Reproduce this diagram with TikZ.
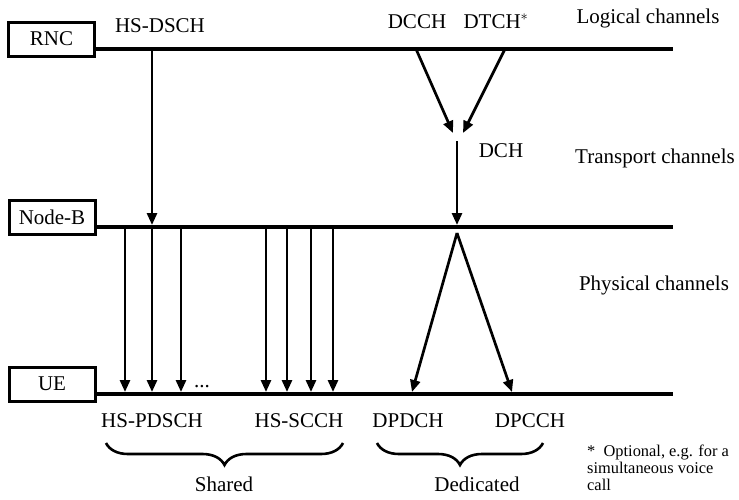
\documentclass[tikz,border=0pt]{standalone}
\usepackage{fontspec}
\setmainfont{Liberation Serif}
\usetikzlibrary{arrows.meta,decorations.pathreplacing}
\begin{document}
\begin{tikzpicture}[x=1pt,y=-1pt,
  box/.style={draw,line width=3pt,minimum width=86pt,minimum height=34pt,inner sep=0pt,font=\fontsize{21}{24}\selectfont},
  chan/.style={line width=4pt},
  arr/.style={line width=2.7pt,-{Triangle[length=12pt,width=10pt]}},
  lbl/.style={anchor=base,font=\fontsize{21}{24}\selectfont,inner sep=0pt},
  note/.style={anchor=base west,font=\fontsize{16.4}{18}\selectfont,inner sep=0pt},
  brc/.style={decorate,decoration={brace,mirror,amplitude=22pt},line width=2.6pt}
]
\useasboundingbox (0,0) rectangle (739,499);

% boxes
\node[box] (rnc) at (51.5,39) {RNC};
\node[box] (nodeb) at (52,217) {Node-B};
\node[box] (ue) at (52,384) {UE};

% channel lines
\coordinate (rncE) at (673,49);
\coordinate (nbE) at (673,227);
\coordinate (ueE) at (673,394);
\draw[chan] (rnc.east |- rncE) -- (rncE);
\draw[chan] (nodeb.east |- nbE) -- (nbE);
\draw[chan] (ue.east |- ueE) -- (ueE);

% HS-DSCH
\coordinate (hsA) at (152,49);
\coordinate (hsB) at (152,225);
\draw[arr] (hsA) -- (hsB);

% shared physical arrows
\foreach \x [count=\i] in {125,152,181,266,287,311,333}{
  \coordinate (s\i a) at (\x,227);
  \coordinate (s\i b) at (\x,392);
  \draw[arr] (s\i a) -- (s\i b);
}

% dedicated logical -> transport
\coordinate (dcchA) at (416,49);
\coordinate (dcchB) at (453,133);
\coordinate (dtchA) at (505,49);
\coordinate (dtchB) at (463,133);
\draw[arr] (dcchA) -- (dcchB);
\draw[arr] (dtchA) -- (dtchB);
\coordinate (dchA) at (457,141);
\coordinate (dchB) at (457,225);
\draw[arr] (dchA) -- (dchB);

% dedicated physical
\coordinate (apex) at (457,233);
\coordinate (dpdch) at (412,392);
\coordinate (dpcch) at (512,392);
\draw[arr] (apex) -- (dpdch);
\draw[arr] (apex) -- (dpcch);

% labels
\node[lbl] (lhsdsch) at (160,32) {HS-DSCH};
\node[lbl] (ldcch) at (417,28) {DCCH};
\node[lbl] (ldtch) at (496,28) {DTCH$^{*}$};
\node[lbl] (llog) at (648,23) {Logical channels};
\node[lbl] (ldch) at (501,157) {DCH};
\node[lbl] (ltrans) at (655,163) {Transport channels};
\node[lbl] (lphys) at (654,290) {Physical channels};
\node[lbl] (ldots) at (202,387) {...};
\node[lbl] (lhspdsch) at (152,427) {HS-PDSCH};
\node[lbl] (lhsscch) at (299,427) {HS-SCCH};
\node[lbl] (ldpdch) at (408,427) {DPDCH};
\node[lbl] (ldpcch) at (530,427) {DPCCH};

% braces
\coordinate (shL) at (106,443);
\coordinate (shR) at (343,443);
\coordinate (deL) at (377,443);
\coordinate (deR) at (543,443);
\draw[brc] (shL) -- (shR);
\draw[brc] (deL) -- (deR);
\node[lbl] (lshared) at (224,491) {Shared};
\node[lbl] (ldedic) at (477,491) {Dedicated};

% footnote
\node[note] (fn1) at (587,456) {*\ \ Optional, e.g. for a};
\node[note] (fn2) at (587,473) {simultaneous voice};
\node[note] (fn3) at (587,490) {call};
\end{tikzpicture}
\end{document}
